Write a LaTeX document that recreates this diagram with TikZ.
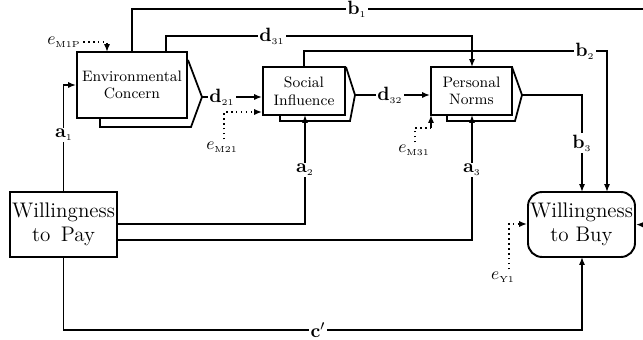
\documentclass[tikz,border=0pt]{standalone}
\usepackage{amsmath}
\usepackage{amssymb}
\usetikzlibrary{arrows, arrows.meta}
\tikzset{
  box/.style={draw,line width=1.1pt,fill=white,rectangle,align=center,inner sep=0pt,font=\fontsize{8.6}{10}\selectfont},
  bigbox/.style={box,font=\large},
  lab/.style={fill=white,inner sep=0.8pt,font=\fontsize{11}{12}\selectfont},
  elab/.style={inner sep=1pt,font=\normalsize},
  arr/.style={-{Latex[length=4.5pt,width=3.5pt]}},
  err/.style={dotted,thick,-{Latex[length=4.5pt,width=3.5pt]}},
}

\begin{document}
\begin{tikzpicture}[x=0.02cm,y=-0.02cm,line width=1pt]
\useasboundingbox (0,0) rectangle (643,340);
%---------------------------------------------------
% shadows behind the mediator boxes
\draw (188,60) -- (202,97) -- (191,127) -- (100,127) -- (100,118);
\draw (346,67) -- (355,95) -- (350,121) -- (280,121) -- (280,115);
\draw (512,67) -- (522,95) -- (515,121) -- (447,121) -- (447,115);
\coordinate (ECtip) at (202,97);
\coordinate (SItip) at (355,95);
\coordinate (PNtip) at (522,95);
%---------------------------------------------------
\node[box,minimum width=2.2cm,minimum height=1.32cm] (EC) at (132,85) {Environmental\\Concern};
\node[box,minimum width=1.64cm,minimum height=0.96cm] (SI) at (304,91) {Social\\Influence};
\node[box,minimum width=1.62cm,minimum height=0.96cm] (PN) at (471.5,91) {Personal\\Norms};
\node[bigbox,minimum width=2.14cm,minimum height=1.3cm] (WtP) at (63.5,224.5) {Willingness\\to\, Pay};
\node[bigbox,rounded corners=8pt,minimum width=2.14cm,minimum height=1.3cm] (WtB) at (581.5,224.5) {Willingness\\to Buy};
%---------------------------------------------------
\draw[arr] (WtP.north) -- (63.5,85) -- (EC.west |- 63.5,85);
\draw[arr] (WtP.east |- 0,224) -- (305,224) -- (305,115);
\draw[arr] (WtP.east |- 0,240) -- (472,240) -- (472,115);
\draw[arr] (WtP.south) -- (63.5,330) -- (582,330) -- (582,257);
%---------------------------------------------------
\draw[arr] (ECtip) -- (SI.west |- ECtip);
\draw[arr] (SItip) -- (PN.west |- SItip);
\draw[arr] (166,52) -- (166,36) -- (472,36) -- (472,67);
\draw[arr] (304,67) -- (304,51) -- (607,51) -- (607,192);
\draw[arr] (PNtip) -- (582,95) -- (582,192);
\draw[arr] (EC.north) -- (132,9) -- (650,9) -- (650,225) -- (WtB.east);
%---------------------------------------------------
\node[lab] (a1) at (64,135) {$\mathbf{a}_{\scriptscriptstyle 1}$};
\node[lab] (a2) at (305,170) {$\mathbf{a}_{\scriptscriptstyle 2}$};
\node[lab] (a3) at (472,170) {$\mathbf{a}_{\scriptscriptstyle 3}$};
\node[lab] (b1) at (357,9) {$\mathbf{b}_{\scriptscriptstyle 1}$};
\node[lab] (b2) at (585,51) {$\mathbf{b}_{\scriptscriptstyle 2}$};
\node[lab] (b3) at (582,143) {$\mathbf{b}_{\scriptscriptstyle 3}$};
\node[lab] (c) at (318,330) {$\mathbf{c}'$};
\node[lab] (d21) at (222,97) {$\mathbf{d}_{\scriptscriptstyle 21}$};
\node[lab] (d31) at (272,36) {$\mathbf{d}_{\scriptscriptstyle 31}$};
\node[lab] (d32) at (390,95) {$\mathbf{d}_{\scriptscriptstyle 32}$};
%---------------------------------------------------
\node[elab] (eM1P) at (64,42) {$e_{\scriptscriptstyle\mathrm{M1P}}$};
\node[elab] (eM21) at (222,147) {$e_{\scriptscriptstyle\mathrm{M21}}$};
\node[elab] (eM31) at (414,150) {$e_{\scriptscriptstyle\mathrm{M31}}$};
\node[elab] (eY1) at (503,277) {$e_{\scriptscriptstyle\mathrm{Y1}}$};
\draw[err] (eM1P.east) -- (107,42) -- (107,52);
\draw[err] (eM21.north -| 224,0) -- (224,112) -- (SI.west |- 0,112);
\draw[dotted,thick] (eM31.north -| 415,0) -- (415,128) -- (431,128);
\draw[arr] (431,128) -- (431,115);
\draw[err] (eY1.north -| 509,0) -- (509,224) -- (WtB.west |- 0,224);

\end{tikzpicture}
\end{document}
